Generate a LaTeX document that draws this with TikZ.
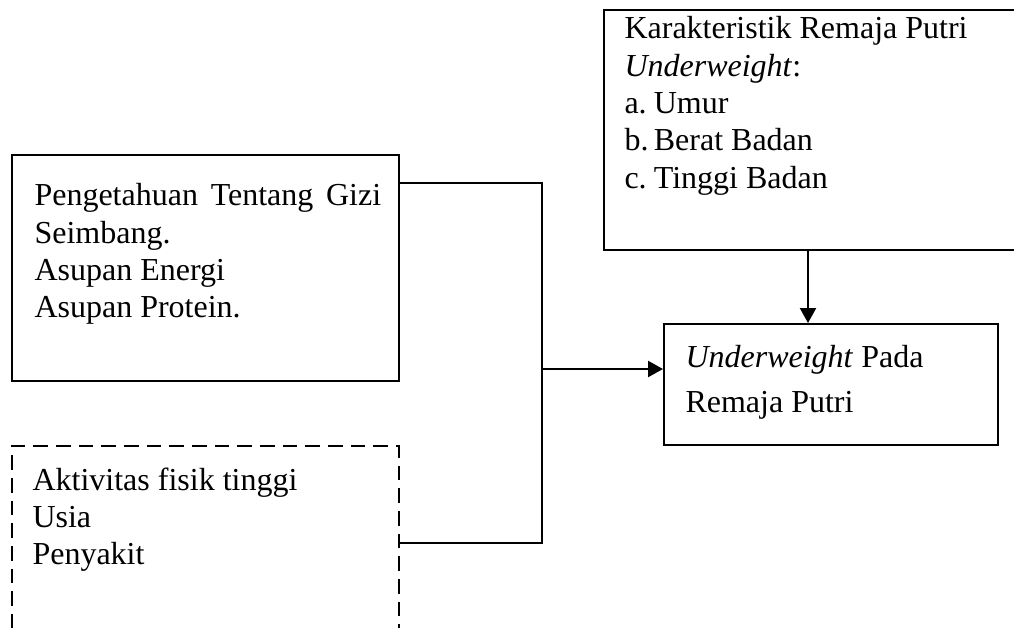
\documentclass[tikz,border=0pt]{standalone}
\usepackage{fontspec}
\setmainfont{Liberation Serif}
\usetikzlibrary{arrows.meta}
\tikzset{box/.style={draw, line width=0.75pt, inner sep=0pt},
         dashbox/.style={box, dash pattern=on 5.5pt off 3pt},
         txt/.style={anchor=north west, align=left, inner sep=0pt,
                     font=\fontsize{12}{14}\selectfont},
         link/.style={line width=0.75pt},
         arrow/.style={link, -{Triangle[length=5.6pt,width=6pt]}}}
\newcommand{\uw}{\textit{Underweight}}
\newcommand{\itm}[1]{\makebox[11pt][l]{#1}}

\begin{document}
\begin{tikzpicture}[x=0.375pt,y=-0.375pt]
\clip (0,0) rectangle (1014,628);
\node[box, minimum width=145.125pt, minimum height=84.75pt] (know) at (205.5,268) {};
\node[dashbox, minimum width=145.125pt, minimum height=80.25pt] (other) at (205.5,553) {};
\node[box, minimum width=157.5pt, minimum height=90pt] (char) at (814,130) {};
\node[box, minimum width=125.25pt, minimum height=45.375pt] (result) at (831,384.5) {};
\node[txt] (knowtext) at (34,183) {\makebox[130pt][s]{Pengetahuan Tentang Gizi}\\Seimbang.\\Asupan Energi\\Asupan Protein.};
\node[txt] (othertext) at (32,467) {Aktivitas fisik tinggi\\Usia\\Penyakit};
\node[txt] (chartext) at (624,16) {Karakteristik Remaja Putri\\\uw:\\\itm{a.}Umur\\\itm{b.}Berat Badan\\\itm{c.}Tinggi Badan};
\node[txt, font=\fontsize{12}{16.9}\selectfont] (resulttext) at (685,345) {\uw{} Pada\\Remaja Putri};
\coordinate (merge) at (542,369);
\coordinate (drop) at ([xshift=-2.25pt]char.south);
\draw[link] ([yshift=-10.875pt]know.north east) -| (merge);
\draw[link] ([yshift=-36.75pt]other.north east) -| (merge);
\draw[arrow] (merge) -- (merge -| result.west);
\draw[arrow] (drop) -- (drop |- result.north);
\end{tikzpicture}
\end{document}
